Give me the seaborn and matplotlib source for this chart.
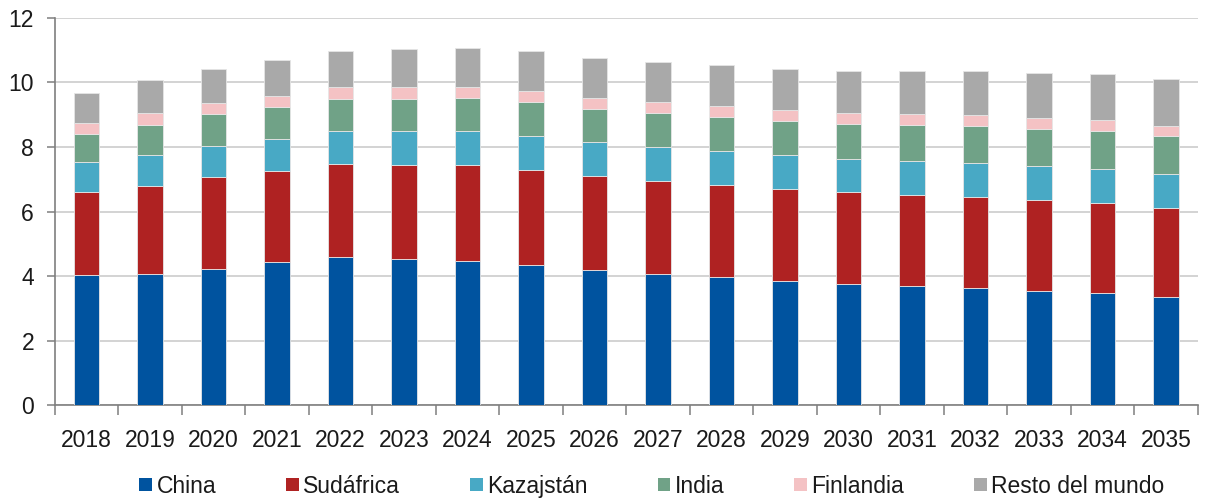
import numpy as np
import pandas as pd
import matplotlib
matplotlib.use("Agg")
import matplotlib.pyplot as plt
from matplotlib.patches import Patch
import seaborn as sns

years = [str(y) for y in range(2018, 2036)]

china = [4.02, 4.07, 4.23, 4.44, 4.58, 4.53, 4.48, 4.33, 4.18, 4.05, 3.96, 3.84, 3.76, 3.69, 3.64, 3.53, 3.46, 3.34]
sudafrica = [2.59, 2.73, 2.84, 2.83, 2.90, 2.92, 2.95, 2.97, 2.92, 2.91, 2.87, 2.87, 2.83, 2.83, 2.82, 2.84, 2.81, 2.77]
kazajstan = [0.92, 0.94, 0.96, 0.97, 1.01, 1.04, 1.06, 1.05, 1.05, 1.04, 1.04, 1.03, 1.04, 1.05, 1.04, 1.03, 1.04, 1.04]
india = [0.88, 0.94, 0.99, 1.00, 1.01, 1.00, 1.03, 1.05, 1.03, 1.05, 1.05, 1.08, 1.09, 1.10, 1.14, 1.17, 1.20, 1.18]
finlandia = [0.33, 0.37, 0.35, 0.35, 0.36, 0.37, 0.35, 0.35, 0.35, 0.35, 0.34, 0.34, 0.33, 0.34, 0.35, 0.33, 0.33, 0.33]
resto = [0.94, 1.03, 1.04, 1.11, 1.13, 1.17, 1.21, 1.22, 1.23, 1.24, 1.27, 1.27, 1.31, 1.34, 1.37, 1.39, 1.42, 1.44]

series_names = ["China", "Sudáfrica", "Kazajstán", "India", "Finlandia", "Resto del mundo"]
series_values = [china, sudafrica, kazajstan, india, finlandia, resto]
colors = ["#00539F", "#AF2222", "#48A9C5", "#70A287", "#F4C2C4", "#A9A9A9"]

sns.set_theme(style="white")
plt.rcParams["font.family"] = ["Liberation Sans", "DejaVu Sans"]

fig = plt.figure(figsize=(12.05, 4.98), dpi=100)
ax = fig.add_axes([0.0456, 0.1867, 0.9484, 0.7772])

bottom = np.zeros(len(years))
for name, vals, col in zip(series_names, series_values, colors):
    df = pd.DataFrame({"year": years, "value": vals})
    sns.barplot(data=df, x="year", y="value", order=years, color=col,
                width=0.4, bottom=bottom, ax=ax, saturation=1,
                edgecolor="#E6E6E6", linewidth=0.6, zorder=3, errorbar=None)
    bottom = bottom + np.array(vals)

ax.set_xlim(-0.5, len(years) - 0.5)
ax.set_ylim(0, 12)
ax.set_yticks(range(0, 13, 2))
ax.set_xlabel("")
ax.set_ylabel("")

ax.yaxis.grid(True, color="#D0D0D0", linewidth=1.3, zorder=0)
ax.set_axisbelow(True)

for side in ["top", "right"]:
    ax.spines[side].set_visible(False)
for side in ["left", "bottom"]:
    ax.spines[side].set_color("#7F7F7F")
    ax.spines[side].set_linewidth(1.2)

# x ticks between categories, labels centred under bars
ax.set_xticks(np.arange(-0.5, len(years), 1.0))
ax.set_xticklabels([])
ax.set_xticks(range(len(years)), minor=True)
ax.set_xticklabels(years, minor=True)
ax.tick_params(axis="x", which="major", direction="out", length=7, width=1.1,
               color="#7F7F7F", bottom=True)
ax.tick_params(axis="x", which="minor", length=0, pad=17, labelsize=16.5, labelcolor="#1A1A1A")
ax.tick_params(axis="y", direction="out", length=6, width=1.1, color="#7F7F7F",
               left=True, labelsize=16.5, labelcolor="#1A1A1A", pad=9)

handles = [Patch(facecolor=c, edgecolor="none") for c in colors]
fig.legend(handles, series_names, loc="center", bbox_to_anchor=(0.541, 0.024),
           ncol=6, frameon=False, fontsize=16.5, handlelength=0.55, handleheight=0.55,
           handletextpad=0.2, columnspacing=3.05, labelcolor="#1A1A1A")

fig.savefig("out.png", dpi=100)
